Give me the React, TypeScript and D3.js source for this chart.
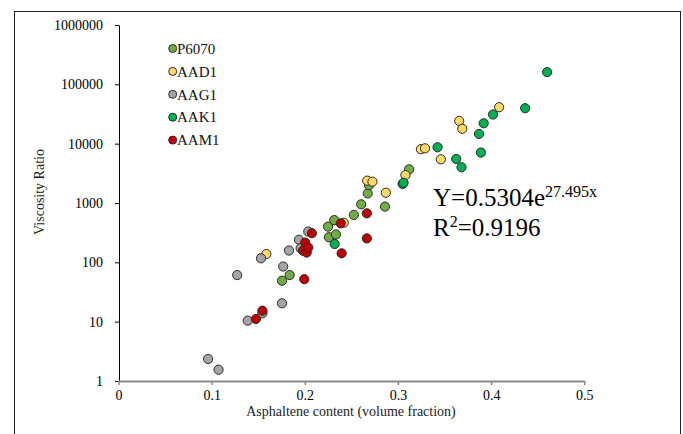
import { useRef, useEffect } from 'react'
import * as d3 from 'd3'

const seriesNames = ['P6070', 'AAD1', 'AAG1', 'AAK1', 'AAM1']
const seriesColors = ['#70AD47', '#FFD966', '#A5A5A5', '#00B050', '#C00000']

const p6070X = [0.1755, 0.1837, 0.225, 0.2259, 0.2316, 0.2334, 0.2526, 0.2605, 0.2675, 0.269, 0.286, 0.312]
const p6070Y = [49, 61, 400, 265, 515, 295, 630, 950, 1450, 2000, 870, 3700]

const aad1X = [0.1587, 0.2418, 0.267, 0.2726, 0.287, 0.308, 0.3246, 0.329, 0.346, 0.3657, 0.369, 0.4086]
const aad1Y = [138, 465, 2380, 2290, 1490, 2950, 8070, 8350, 5450, 24200, 17800, 41200]

const aag1X = [0.0962, 0.1074, 0.1387, 0.1545, 0.1755, 0.1274, 0.153, 0.1768, 0.183, 0.1937, 0.1955, 0.2037]
const aag1Y = [2.35, 1.55, 10.4, 13.8, 20.4, 61, 117, 85, 158, 240, 173, 330]

const aak1X = [0.232, 0.305, 0.306, 0.3425, 0.3625, 0.3682, 0.387, 0.392, 0.389, 0.402, 0.4365, 0.4601]
const aak1Y = [204, 2100, 2200, 8700, 5520, 4000, 14600, 22100, 7080, 31000, 39600, 160700]

const aam1X = [0.1475, 0.1545, 0.1994, 0.2004, 0.198, 0.202, 0.2037, 0.2076, 0.2386, 0.2395, 0.2666, 0.2666]
const aam1Y = [11.1, 15.3, 52, 215, 157, 146, 177, 310, 454, 142, 670, 253]

const xTicks = [0, 0.1, 0.2, 0.3, 0.4, 0.5]
const yTicks = [1, 10, 100, 1000, 10000, 100000, 1000000]

const serif = '"Liberation Serif", "Times New Roman", serif'

function drawChart(target: SVGSVGElement) {
  const svg = d3.select(target)
  svg.selectAll('*').remove()

  const x = d3.scaleLinear().domain([0, 0.5]).range([118.5, 584.3])
  const y = d3.scaleLog().domain([1, 1000000]).range([381, 25])

  // outer frame
  svg
    .append('rect')
    .attr('x', 14.5)
    .attr('y', 11.5)
    .attr('width', 666)
    .attr('height', 440)
    .attr('fill', 'white')
    .attr('stroke', '#222')
    .attr('stroke-width', 1)

  const yAxis = d3
    .axisLeft(y)
    .tickValues(yTicks)
    .tickFormat((d) => d3.format('d')(d as number))
    .tickSize(4)
    .tickSizeOuter(0)

  const yg = svg.append('g').attr('transform', 'translate(119,0)').call(yAxis)
  yg.select('.domain').attr('stroke', '#000')
  yg.selectAll('.tick line').attr('stroke', '#000')
  yg.selectAll('.tick text')
    .attr('font-family', serif)
    .attr('font-size', 14)
    .attr('fill', '#000')
    .attr('x', -16)

  const xAxis = d3
    .axisBottom(x)
    .tickValues(xTicks)
    .tickFormat((d) => String(d))
    .tickSize(4)
    .tickSizeOuter(0)

  const xg = svg.append('g').attr('transform', 'translate(0,381)').call(xAxis)
  xg.select('.domain').attr('stroke', '#898989').attr('stroke-width', 2)
  xg.selectAll('.tick line').attr('stroke', '#898989').attr('stroke-width', 1.5)
  xg.selectAll('.tick text')
    .attr('font-family', serif)
    .attr('font-size', 14)
    .attr('fill', '#000')
    .attr('y', 9)

  svg
    .append('text')
    .attr('x', 351)
    .attr('y', 416)
    .attr('text-anchor', 'middle')
    .attr('font-family', serif)
    .attr('font-size', 14)
    .attr('fill', '#222')
    .text('Asphaltene content (volume fraction)')

  svg
    .append('text')
    .attr('transform', 'translate(44,192) rotate(-90)')
    .attr('text-anchor', 'middle')
    .attr('font-family', serif)
    .attr('font-size', 14)
    .attr('fill', '#222')
    .text('Viscosity Ratio')

  const allX = [p6070X, aad1X, aag1X, aak1X, aam1X]
  const allY = [p6070Y, aad1Y, aag1Y, aak1Y, aam1Y]

  const points = svg.append('g').attr('class', 'points')
  seriesNames.forEach((name, i) => {
    const data = allX[i].map((v, j) => ({ x: v, y: allY[i][j] }))
    points
      .append('g')
      .attr('class', name)
      .selectAll('circle')
      .data(data)
      .enter()
      .append('circle')
      .attr('cx', (d) => x(d.x))
      .attr('cy', (d) => y(d.y))
      .attr('r', 4.6)
      .attr('fill', seriesColors[i])
      .attr('stroke', '#2b2b2b')
      .attr('stroke-width', 1)
  })

  // legend
  const legend = svg.append('g')
  seriesNames.forEach((name, i) => {
    const ly = 48.5 + i * 22.9
    legend
      .append('circle')
      .attr('cx', 172.7)
      .attr('cy', ly)
      .attr('r', 4)
      .attr('fill', seriesColors[i])
      .attr('stroke', '#2b2b2b')
      .attr('stroke-width', 1)
    legend
      .append('text')
      .attr('x', 177)
      .attr('y', ly + 5.2)
      .attr('font-family', serif)
      .attr('font-size', 15)
      .attr('fill', '#111')
      .text(name)
  })

  // fitted equation
  const eq = svg
    .append('text')
    .attr('x', 433)
    .attr('y', 206)
    .attr('font-family', serif)
    .attr('font-size', 25)
    .attr('fill', '#000')
  eq.append('tspan').text('Y=0.5304e')
  eq.append('tspan').attr('font-size', 16).attr('dy', -9).text('27.495x')

  const r2 = svg
    .append('text')
    .attr('x', 433)
    .attr('y', 236)
    .attr('font-family', serif)
    .attr('font-size', 25)
    .attr('fill', '#000')
  r2.append('tspan').text('R')
  r2.append('tspan').attr('font-size', 16).attr('dy', -9).text('2')
  r2.append('tspan').attr('dy', 9).text('=0.9196')
}

export default function App() {
  const targetSVG = useRef<SVGSVGElement>(null)

  useEffect(() => {
    if (targetSVG.current) drawChart(targetSVG.current)
  }, [])

  return (
    <div style={{ position: 'absolute', left: 0, top: 0 }}>
      <svg ref={targetSVG} width={683} height={434} style={{ display: 'block' }} />
    </div>
  )
}
